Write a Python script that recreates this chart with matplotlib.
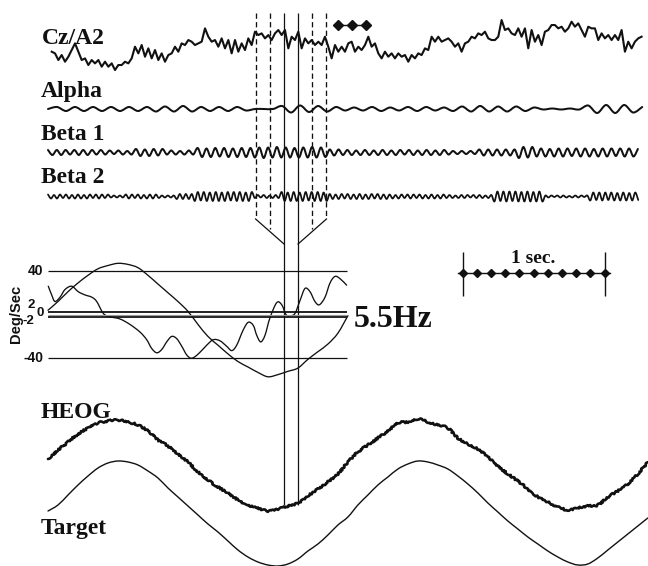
import numpy as np
import matplotlib
matplotlib.use("Agg")
import matplotlib.pyplot as plt
from matplotlib.path import Path
from matplotlib.patches import PathPatch

# ---------------- EEG channels (uV), uniformly sampled ----------------
CZ_T0, CZ_DT = 0.026, 0.02347
cz_a2 = [-15, -20, -40, -25, -45, -30, -10, 10, -15, -40, -35, -55, -40, -50, -40, -60, -45, -60, -50, -70,
         -55, -55, -45, -50, -35, 0, -20, 5, -30, -5, -35, -10, -40, -20, -45, -25, -20, 0, -15, 10,
         5, 20, 15, 5, 10, 15, 55, 30, 15, 20, 0, 25, -5, 20, -20, 20, -15, 10, -10, 25,
         5, 45, 35, 40, 25, 35, 20, 40, 50, 35, 50, -5, 30, 20, 45, -5, 25, 10, 20, 5,
         15, 5, 30, 0, -35, 5, -15, 0, -15, 10, 15, -15, 0, -10, 5, 30, 0, 10, -20, -35,
         -15, -30, -20, -35, -20, -30, -25, -45, -25, -35, -20, -25, -5, -10, 30, 15, 30, 15, 20, 25,
         15, 0, 10, -15, 10, 15, 30, 25, 40, 35, 45, 25, 20, 20, 30, 80, 50, 55, 40, 35,
         55, 30, 55, -5, 50, 15, 35, 5, 45, 50, 65, 65, 55, 60, 45, 55, 75, 60, 70, 50,
         30, 60, 55, 55, 20, 40, 25, 35, 20, 35, 20, 50, -15, 15, -5, 15, 25, 30]

# band-filtered traces: successive peak / trough values
ALPHA_DT = 0.0634
alpha = [0, 4, -4, 4, -4, 4, -4, 4, -4, 4, -4, 4, -5, 5, -5, 6, -5, 4, -4, 4, -4, 4, -3,
         0, 0, 0, 6, -7, 7, -6, 6, -5, 4, -3, 3, -3, 4, -4, 3, -3, 4, -4, 4, -3, 3,
         -4, 5, -5, 6, -5, 5, -5, 5, -4, 3, -1, 1, -1, 1, -1, 7, -8, 8, -8, 8, -7, 4]

BETA1_DT = 0.031
beta1 = [5, -5, 5, -5, 5, -4, 5, -5, 5, -5, 5, -4, 5,
         -4, 4, -3, 4, -4, 3, -4,
         7, -7, 6, -7, 7, -6, 7,
         -4, 4, -4, 3, -4, 4, -4,
         9, -9, 8, -9, 9, -8, 9, -9, 8, -9, 9, -9, 9,
         -10, 10, -11, 10, -10, 11, -10, 10, -10, 9, -10, 10, -10, 11, -10, 10, -9,
         6, -6, 6, -5,
         5, -5, 4, -5,
         5, -5, 4, -5, 5, -5, 4, -5, 5, -4, 5, -5, 4, -5, 5, -5, 4, -5, 5, -4,
         3, -3, 3, -3, 3, -3,
         6, -6, 6, -6, 6, -6, 6, -6, 6,
         -11, 11, -10, 11,
         -8, 8, -8, 7, -8, 8, -8, 8, -7, 8, -8, 8, -8, 7, -8, 8, -8, 8, -7, 8, -8, 8, -8, 7]

BETA2_DT = 0.0211
beta2 = [4, -4, 3, -4, 4, -3, 4, -4, 3, -4, 4, -4, 3, -4, 4, -3, 4, -4, 4, -3, 4,
         -2, 2, -2, 2, -2,
         4, -4, 4, -3, 4, -4, 3, -4, 4, -4, 4, -3,
         2, -2, 2, -2, 2,
         -5, 5, -5, 5, -5, 5,
         -9, 9, -8, 9, -9, 8, -9, 9, -9, 8, -9, 9, -8, 9, -9, 9, -9, 8, -9, 9,
         -3, 3, -2, 3, -3, 2, -3, 3, -3,
         9, -9, 8, -9, 9, -9, 8, -9, 9, -8, 9, -9, 9, -9, 8, -9,
         5, -5, 4, -5, 5, -4, 5, -5, 4, -5, 5, -5, 4, -5, 5, -4, 5, -5, 4, -5,
         4, -4, 3, -4, 4, -3, 4, -4, 4, -3, 4, -4, 3, -4, 4, -4, 3, -4, 4,
         -3, 3, -3, 2, -3, 3, -3, 3, -2, 3, -3, 3, -3, 2, -3, 3,
         -10, 10, -9, 10, -10, 10, -9, 10, -10, 9, -10, 10, -10, 9, -10, 10, -10,
         2, -2, 2, -1, 2, -2, 2, -2, 1, -2, 2, -2, 2, -1, 2,
         -8, 8, -7, 8, -8, 8, -7, 8, -8, 7, -8, 8, -8, 7, -8, 8, -7]

# ---------------- velocity panel (deg/s) ----------------
VEL_DT = 0.0704
target_vel = [4, 12, 21, 29, 36, 42, 45, 47, 46, 43, 36, 28, 20, 12, 3, -9, -20, -28, -36, -43,
              -48, -53, -57, -55, -52, -49, -41, -34, -27, -17, -1]
eye_vel_t = [0.002, 0.026, 0.049, 0.085, 0.120, 0.167, 0.213, 0.261, 0.308, 0.343, 0.390, 0.437,
             0.507, 0.577, 0.648, 0.695, 0.730, 0.766, 0.801, 0.836, 0.871, 0.906, 0.942, 0.977,
             1.012, 1.059, 1.118, 1.164, 1.211, 1.258, 1.294, 1.329, 1.375, 1.411, 1.446, 1.470,
             1.498, 1.528, 1.563, 1.611, 1.646, 1.676, 1.704, 1.739, 1.775, 1.810, 1.845, 1.880,
             1.911, 1.951, 1.986, 2.021, 2.056, 2.103]
eye_vel = [26, 18, 12, 16, 23, 26, 21, 18, 16, 12, 1, -2,
           -4, -9, -16, -23, -31, -35, -32, -25, -20, -22, -29, -37,
           -40, -36, -28, -23, -24, -29, -33, -28, -14, -7, -10, -19,
           -25, -19, -3, 11, 9, 0, -1, 1, 13, 24, 21, 12,
           9, 16, 29, 35, 33, 27]
vel_ticks = ["40", "2", "0", "-2", "-40"]

# ---------------- eye position ----------------
EYE_DT = 0.0704
heog = [7, 16, 24, 32, 38, 43, 45, 46, 44, 41, 35, 26, 20, 12, 4, -6, -14, -21, -27, -34,
        -39, -42, -45, -43, -40, -37, -30, -23, -16, -8, 4, 14, 21, 28, 35, 43, 44, 47, 44, 41,
        38, 28, 22, 17, 9, 0, -8, -15, -23, -31, -36, -41, -44, -42, -40, -39, -31, -25, -18, -8, 4]
target = [2, 8, 18, 28, 37, 45, 50, 52, 51, 48, 42, 35, 25, 16, 7, -2, -11, -19, -28, -37,
          -44, -49, -52, -53, -51, -46, -38, -31, -22, -12, -4, 8, 18, 28, 36, 44, 49, 52, 51, 48,
          44, 37, 29, 20, 10, 1, -8, -16, -24, -31, -38, -44, -49, -52, -51, -45, -37, -29, -21, -13, -5]

# analysis window (s) and surrounding epochs
window = (1.662, 1.761)
epoch_step = 0.1
marker_times = [2.04, 2.14, 2.24]
scale_start, scale_len = 2.92, 1.0

# ---------------- layout ----------------
W, H = 648, 566
X0, PX_PER_SEC = 48, 142.0
XLIM = (-X0 / PX_PER_SEC, (W - X0) / PX_PER_SEC)
INK = "#111111"

fig = plt.figure(figsize=(W / 100, H / 100), dpi=100)
fig.patch.set_facecolor("white")


def layer(baseline_px=None, gain=None, ylim=None):
    ax = fig.add_axes([0, 0, 1, 1])
    ax.set_xlim(*XLIM)
    if ylim is None:
        ylim = ((baseline_px - H) / gain, baseline_px / gain)
    ax.set_ylim(*ylim)
    ax.axis("off")
    ax.patch.set_alpha(0)
    return ax


def tsec(px):
    return (px - X0) / PX_PER_SEC


def smooth_line(ax, t, v, lw, color=INK):
    """Pen-like trace: cubic Catmull-Rom segments through every sample."""
    p = np.column_stack([t, v]).astype(float)
    n = len(p)
    verts, codes = [p[0]], [Path.MOVETO]
    for i in range(n - 1):
        p0, p1, p2, p3 = p[max(i - 1, 0)], p[i], p[i + 1], p[min(i + 2, n - 1)]
        verts += [p1 + (p2 - p0) / 6.0, p2 - (p3 - p1) / 6.0, p2]
        codes += [Path.CURVE4] * 3
    patch = PathPatch(Path(verts, codes), fill=False, lw=lw, edgecolor=color,
                      capstyle="round", joinstyle="round")
    ax.add_patch(patch)
    return patch


page = fig.add_axes([0, 0, 1, 1])
page.set_xlim(0, W)
page.set_ylim(H, 0)
page.axis("off")
page.patch.set_alpha(0)

SERIF = dict(family=["Liberation Serif"], weight="bold")
SANS = dict(family=["Liberation Sans"], weight="bold")

# EEG traces
RAW_GAIN = 1 / 3.0
BAND_GAIN = 0.5
cz_ax = layer(46.7, RAW_GAIN)
cz_ax.plot(CZ_T0 + CZ_DT * np.arange(len(cz_a2)), cz_a2, color=INK, lw=1.5,
           solid_joinstyle="round")
page.text(42, 44, "Cz/A2", fontsize=17, ha="left", va="baseline", color=INK, **SERIF)

bands = [
    ("Alpha", alpha, ALPHA_DT, 109.0, 1.45, 97),
    ("Beta 1", beta1, BETA1_DT, 152.5, 1.45, 140),
    ("Beta 2", beta2, BETA2_DT, 196.5, 1.25, 183),
]
for name, vals, dt, base, lw, lab_y in bands:
    ax = layer(base, BAND_GAIN)
    smooth_line(ax, dt * np.arange(len(vals)), vals, lw)
    page.text(41, lab_y, name, fontsize=17, ha="left", va="baseline", color=INK, **SERIF)

# window markers
tp = layer(ylim=(H, 0))
tp.vlines(window, 13, 505, color=INK, lw=0.9)
outer = [window[0] - 2 * epoch_step, window[1] + 2 * epoch_step]
inner = [window[0] - epoch_step, window[1] + epoch_step]
tp.vlines(outer, 13, 219, color=INK, lw=0.95, linestyles=(0, (4, 2.5)))
tp.vlines(inner, 13, 229, color=INK, lw=0.95, linestyles=(0, (4, 2.5)))
tp.plot([outer[0], window[0]], [219, 244], color=INK, lw=0.9)
tp.plot([outer[1], window[1]], [219, 244], color=INK, lw=0.9)

# event marker above Cz
tp.plot([marker_times[0] - 0.025, marker_times[-1] + 0.03], [25, 25], color=INK, lw=1.0)
tp.plot(marker_times, [25] * 3, ls="none", marker="D", ms=5, color=INK)

# 1 s scale bar
sb = scale_start + np.linspace(0, scale_len, 11)
tp.plot([scale_start - 0.03, scale_start + scale_len + 0.04], [273, 273], color=INK, lw=1.0)
tp.vlines([scale_start, scale_start + scale_len], 252, 296, color=INK, lw=1.0)
tp.plot(sb, [273] * len(sb), ls="none", marker="D", ms=4.5, color=INK)
tp.text(scale_start + scale_len / 2, 263, "1 sec.", ha="center", va="baseline",
        fontsize=14, color=INK, **SERIF)

# velocity panel
vel = layer(314.6, 1.091)
t_end = tsec(347)
vel.hlines([40, -40], 0, t_end, color=INK, lw=0.9)
vel.hlines([2, -2], 0, t_end, color=INK, lw=1.3)
vel.hlines(0, 0, t_end, color="0.6", lw=0.8)
smooth_line(vel, VEL_DT * np.arange(len(target_vel)), target_vel, 0.95)
smooth_line(vel, eye_vel_t, eye_vel, 0.95)

tick_pos = [(43, 271), (35, 304.5), (44, 312.5), (34.5, 321), (43, 358)]
tick_size = [10, 9.5, 9.5, 9.5, 10]
for s, (x, y), fs in zip(vel_ticks, tick_pos, tick_size):
    page.text(x, y, s, ha="right", va="center", fontsize=fs, color=INK, **SANS)
page.text(16, 314, "Deg/Sec", rotation=90, ha="center", va="center", fontsize=10.5,
          color=INK, **SANS)
page.text(354, 327, "5.5Hz", ha="left", va="baseline", fontsize=23, color=INK, **SERIF)

# eye position traces (HEOG drawn with a rough pen)
heog_line = smooth_line(layer(466, 1.0), EYE_DT * np.arange(len(heog)), heog, 1.9)
heog_line.set_sketch_params(scale=0.9, length=2.5, randomness=4)
smooth_line(layer(513, 1.0), EYE_DT * np.arange(len(target)), target, 1.0)
page.text(41, 418, "HEOG", ha="left", va="baseline", fontsize=17, color=INK, **SERIF)
page.text(41, 534, "Target", ha="left", va="baseline", fontsize=17, color=INK, **SERIF)

fig.savefig("out.png", dpi=100, facecolor="white")
